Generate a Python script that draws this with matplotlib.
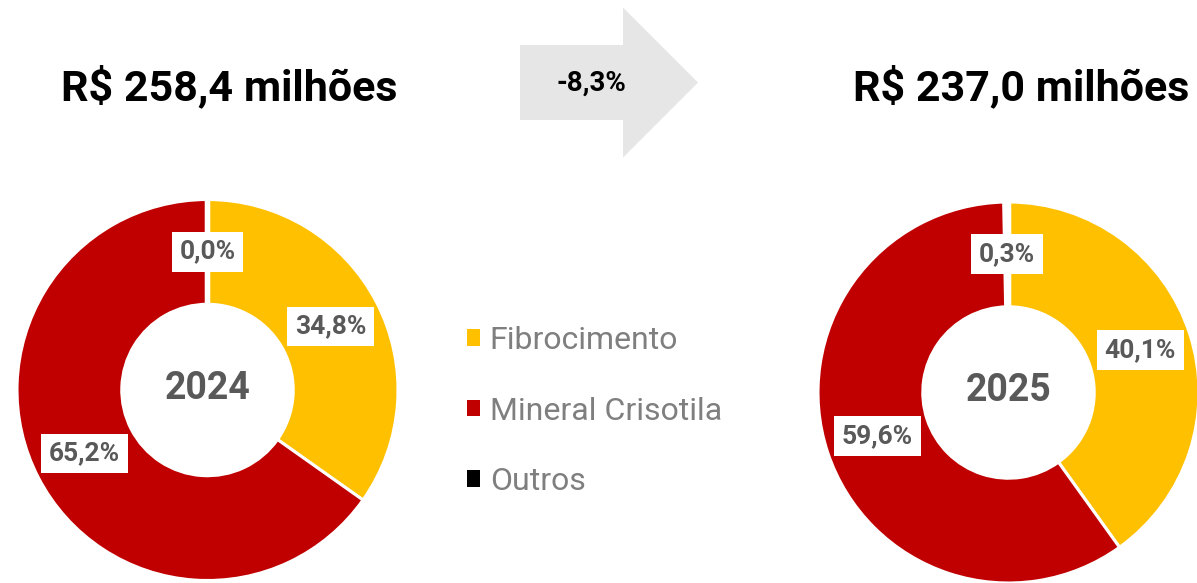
import matplotlib
matplotlib.use('Agg')
import matplotlib.pyplot as plt
import matplotlib.patches as mpatches

plt.rcParams['font.family'] = ['Roboto', 'DejaVu Sans']

# data
categories = ['Fibrocimento', 'Mineral Crisotila', 'Outros']
colors = ['#FFC000', '#C00000', '#000000']
years = ['2024', '2025']
shares_2024 = [34.8, 65.2, 0.0]
shares_2025 = [40.1, 59.6, 0.3]
totals = ['R$ 258,4 milhões', 'R$ 237,0 milhões']
change = '-8,3%'

W, H = 1197, 583
fig = plt.figure(figsize=(W / 100, H / 100), dpi=100)

# overlay in pixel coords for titles / arrow
ov = fig.add_axes([0, 0, 1, 1], zorder=0)
ov.set_xlim(0, W)
ov.set_ylim(H, 0)
ov.axis('off')


def donut(cx, cy, r, shares, year):
    ax = fig.add_axes([(cx - r) / W, (H - cy - r) / H, 2 * r / W, 2 * r / H], zorder=1)
    wedges, _, autotexts = ax.pie(
        shares, colors=colors, startangle=90, counterclock=False,
        radius=1, pctdistance=0.726,
        autopct=lambda p: f'{p:.1f}%'.replace('.', ','),
        wedgeprops=dict(width=0.55, edgecolor='white', linewidth=2.2))
    # tiny "Outros" slice is hidden by the white gap like in the original
    wedges[-1].set_linewidth(4)
    for t in autotexts:
        t.set_color('#595959')
        t.set_fontsize(19)
        t.set_fontweight('bold')
        t.set_bbox(dict(facecolor='white', edgecolor='none', boxstyle='square,pad=0.3'))
    ax.text(0, 0.01, year, ha='center', va='center', fontsize=27,
            fontweight='bold', color='#595959')
    ax.set_xlim(-1, 1)
    ax.set_ylim(-1, 1)
    ax.set_aspect('equal')
    ax.axis('off')
    return wedges


donut(207.5, 390, 190.5, shares_2024, years[0])
donut(1008.5, 392.5, 190.5, shares_2025, years[1])

ov.text(229, 87, totals[0], ha='center', va='center', fontsize=31,
        fontweight='bold', color='black')
ov.text(1021, 87, totals[1], ha='center', va='center', fontsize=31,
        fontweight='bold', color='black')

arrow = mpatches.FancyArrow(520, 82.5, 178, 0, width=75, head_width=150,
                            head_length=75, length_includes_head=True,
                            facecolor='#E6E6E6', edgecolor='none')
ov.add_patch(arrow)
ov.text(591, 83, change, ha='center', va='center', fontsize=20,
        fontweight='bold', color='black')

handles = [mpatches.Patch(facecolor=c, edgecolor='none') for c in colors]
fig.legend(handles, categories, loc='center left',
           bbox_to_anchor=(467 / W, 1 - 411 / H), frameon=False,
           fontsize=23, labelcolor='#7F7F7F', handlelength=0.41,
           handleheight=0.41, handletextpad=0.3, labelspacing=1.3,
           borderpad=0, borderaxespad=0)

fig.savefig('out.png', dpi=100)
